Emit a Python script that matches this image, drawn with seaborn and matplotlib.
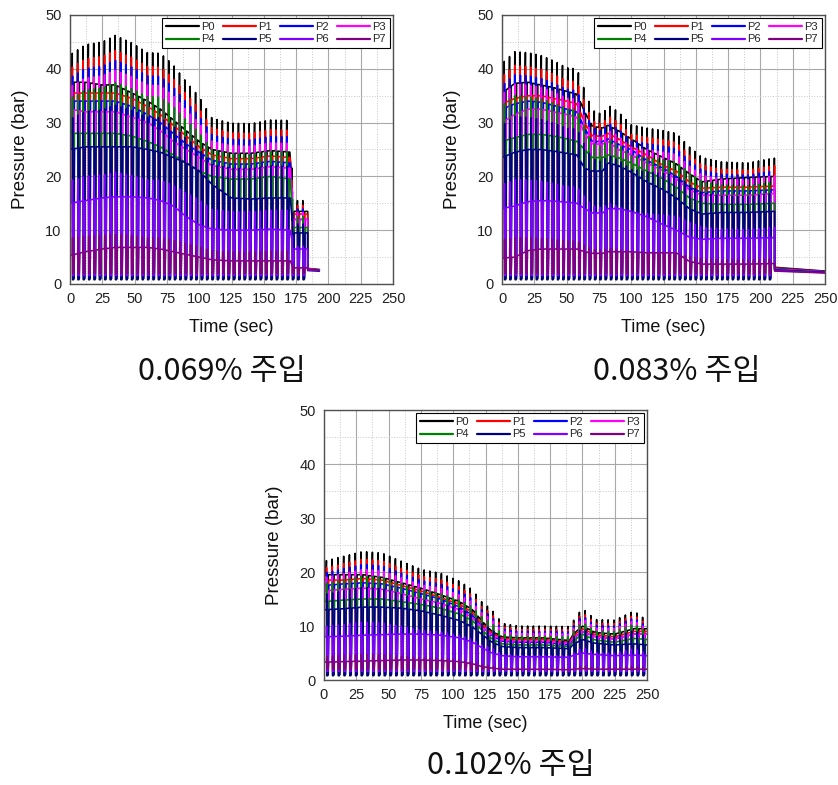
import numpy as np
import pandas as pd
import matplotlib
matplotlib.use("Agg")
import matplotlib.pyplot as plt
import seaborn as sns
from matplotlib.ticker import MultipleLocator
from matplotlib.lines import Line2D

# ---------------- data ----------------
series = ["P0", "P1", "P2", "P3", "P4", "P5", "P6", "P7"]
colors = ["#000000", "#ff0000", "#0000ff", "#ff00ff", "#008000", "#000080", "#8000ff", "#800080"]
peak_scale = [1.0, 0.94, 0.90, 0.86, 0.81, 0.72, 0.45, 0.20]   # spike top relative to P0 spike top
trough = [0.8, 1.5, 1.0, 1.7, 1.4, 1.0, 1.6, 2.0]               # drop level of each pulse
phase_shift = [0.00, 0.03, 0.06, 0.02, 0.05, 0.08, 0.04, 0.07]  # small timing offset of each sensor (fraction of a cycle)

# --- panel 1 : 0.069 %
p1_caption = "0.069% 주입"
p1_period = 4.15
p1_osc_end = 184
p1_t = [0, 12, 25, 35, 48, 60, 70, 80, 90, 100, 110, 125, 140, 155, 171, 172.5, 184]
p1_peak = [42.6, 44.5, 45.0, 46.2, 44.8, 43.0, 42.9, 40.7, 37.6, 34.8, 30.8, 29.9, 29.8, 30.5, 30.4, 15.5, 15.5]
p1_plateau = {
    "P0": [37.5, 37.5, 37.0, 37.0, 35.5, 34.0, 32.5, 30.5, 28.5, 26.5, 25.0, 24.3, 24.3, 24.8, 24.5, 13.5, 13.5],
    "P1": [35.5, 35.5, 35.5, 35.5, 34.5, 33.0, 31.5, 29.5, 27.5, 25.5, 24.0, 23.3, 23.3, 23.8, 23.5, 13.0, 13.0],
    "P2": [34.0, 34.0, 34.0, 34.0, 33.0, 31.5, 30.0, 28.0, 26.0, 24.5, 23.0, 22.3, 22.3, 22.8, 22.5, 12.0, 12.0],
    "P3": [32.5, 32.0, 32.0, 32.0, 31.0, 30.0, 28.5, 26.5, 25.0, 23.5, 22.0, 21.3, 21.3, 21.8, 21.5, 12.0, 12.0],
    "P4": [28.0, 28.0, 28.0, 28.0, 27.5, 26.5, 25.5, 24.0, 22.5, 21.0, 20.0, 19.5, 19.5, 20.0, 19.5, 10.5, 10.5],
    "P5": [25.0, 25.5, 25.5, 25.5, 25.5, 25.0, 24.5, 23.5, 22.5, 21.0, 18.5, 16.0, 15.8, 16.0, 16.0, 9.5, 9.5],
    "P6": [15.0, 15.5, 16.0, 16.2, 16.2, 16.0, 15.5, 14.5, 12.5, 11.0, 10.2, 10.0, 10.0, 10.2, 10.0, 6.5, 6.5],
    "P7": [5.3, 6.0, 6.5, 6.8, 6.8, 6.8, 6.5, 6.0, 5.5, 5.0, 4.5, 4.3, 4.3, 4.3, 4.3, 3.0, 3.0],
}
p1_tail_t = [184, 193]
p1_tail_start = [2.9, 2.8, 2.7, 2.8, 2.6, 2.5, 2.6, 2.7]
p1_tail_end = [2.7, 2.6, 2.5, 2.6, 2.5, 2.4, 2.5, 2.6]

# --- panel 2 : 0.083 %
p2_caption = "0.083% 주입"
p2_period = 4.1
p2_osc_end = 211
p2_t = [0, 10, 20, 30, 40, 50, 58, 64, 70, 78, 82, 90, 100, 112, 125, 135, 145, 155, 170, 190, 210]
p2_peak = [41.0, 43.2, 43.0, 42.5, 41.5, 40.2, 40.0, 36.0, 32.3, 31.5, 33.3, 32.0, 29.6, 29.0, 28.5, 28.0, 25.5, 23.5, 22.7, 22.5, 23.4]
p2_plateau = {
    "P0": [35.5, 37.3, 37.5, 37.0, 36.5, 35.8, 35.3, 32.0, 29.3, 29.0, 29.5, 28.5, 27.0, 25.0, 23.5, 22.3, 20.5, 19.0, 19.5, 19.8, 20.0],
    "P1": [33.5, 34.5, 35.0, 35.0, 34.5, 34.0, 33.5, 30.0, 27.5, 27.5, 28.0, 27.0, 25.5, 24.0, 22.0, 21.0, 19.0, 17.8, 18.0, 18.0, 18.2],
    "P2": [32.5, 33.5, 34.0, 33.8, 33.2, 32.5, 32.0, 29.0, 26.5, 26.5, 27.0, 26.0, 25.0, 23.0, 21.5, 20.0, 18.0, 17.0, 17.3, 17.3, 17.5],
    "P3": [30.0, 31.5, 32.5, 32.5, 32.0, 31.5, 31.0, 28.0, 26.0, 26.0, 26.5, 25.0, 24.0, 22.5, 21.0, 19.5, 17.5, 16.5, 16.5, 16.5, 16.8],
    "P4": [26.5, 27.2, 27.8, 27.8, 27.5, 27.0, 26.5, 25.0, 23.5, 23.5, 24.0, 23.5, 22.5, 21.0, 19.5, 18.0, 16.0, 15.0, 14.8, 14.8, 15.0],
    "P5": [23.5, 24.5, 25.0, 25.0, 24.7, 24.3, 24.0, 21.5, 21.0, 21.0, 22.5, 22.0, 20.8, 19.0, 17.5, 16.0, 14.0, 13.0, 13.3, 13.3, 13.5],
    "P6": [14.0, 14.5, 15.3, 15.5, 15.4, 15.2, 15.0, 14.0, 13.2, 13.2, 14.0, 14.0, 13.5, 12.5, 11.0, 10.0, 8.7, 8.3, 8.5, 8.5, 8.6],
    "P7": [4.8, 5.0, 6.2, 6.5, 6.5, 6.5, 6.5, 6.0, 5.7, 5.7, 6.0, 6.0, 6.0, 5.8, 5.8, 5.8, 4.2, 3.7, 3.7, 3.7, 3.8],
}
p2_tail_t = [211, 250]
p2_tail_start = [3.1, 3.0, 2.9, 2.8, 2.7, 2.6, 2.5, 2.4]
p2_tail_end = [2.4, 2.35, 2.3, 2.25, 2.2, 2.15, 2.1, 2.05]

# --- panel 3 : 0.102 %
p3_caption = "0.102% 주입"
p3_period = 4.45
p3_osc_end = 250
p3_t = [0, 15, 30, 45, 60, 75, 90, 105, 115, 122, 130, 138, 150, 170, 190, 193, 200, 210, 225, 240, 250]
p3_peak = [22.0, 22.9, 23.8, 23.5, 22.0, 20.5, 19.8, 18.3, 16.7, 14.5, 13.0, 10.5, 10.0, 10.0, 9.9, 11.0, 13.3, 11.2, 11.1, 12.8, 11.0]
p3_plateau = {
    "P0": [19.5, 19.5, 19.5, 19.0, 18.0, 17.0, 15.8, 14.5, 13.0, 11.0, 9.0, 8.0, 7.8, 7.8, 7.3, 8.5, 10.0, 8.8, 8.5, 9.5, 9.5],
    "P1": [18.5, 18.5, 18.8, 18.5, 17.5, 16.5, 15.3, 14.0, 12.5, 10.5, 8.7, 7.7, 7.5, 7.5, 7.0, 8.2, 9.5, 8.4, 8.0, 9.0, 9.0],
    "P2": [17.5, 17.8, 18.0, 17.8, 17.0, 16.0, 15.0, 13.5, 12.0, 10.0, 8.2, 7.2, 7.0, 7.0, 6.5, 7.7, 9.0, 8.0, 7.6, 8.5, 8.5],
    "P3": [16.5, 16.8, 17.0, 16.8, 16.0, 15.0, 14.2, 13.0, 11.5, 9.8, 8.4, 7.4, 7.2, 7.2, 6.8, 7.8, 9.0, 8.0, 7.6, 8.5, 8.5],
    "P4": [14.5, 14.8, 15.0, 15.0, 14.5, 14.0, 13.3, 12.2, 11.0, 9.3, 7.6, 6.7, 6.5, 6.5, 6.2, 7.2, 8.5, 7.4, 7.0, 7.7, 7.5],
    "P5": [13.0, 13.2, 13.5, 13.5, 13.3, 12.8, 12.0, 11.0, 9.8, 8.5, 7.0, 6.2, 6.0, 6.0, 5.8, 6.6, 7.5, 6.8, 6.5, 6.7, 6.5],
    "P6": [8.0, 8.1, 8.3, 8.4, 8.5, 8.5, 8.3, 7.8, 7.0, 6.0, 5.0, 4.5, 4.3, 4.3, 4.2, 4.6, 5.0, 4.7, 4.5, 4.6, 4.5],
    "P7": [3.3, 3.4, 3.5, 3.6, 3.7, 3.7, 3.6, 3.4, 3.0, 2.5, 2.2, 2.0, 2.0, 2.0, 1.9, 2.0, 2.1, 2.0, 2.0, 2.0, 2.0],
}
p3_tail_t = []
p3_tail_start = []
p3_tail_end = []

# ---------------- build waveforms ----------------
PHASE = [0.0, 0.36, 0.42, 0.48, 0.66, 0.76]
KIND = ["plat", "plat", "peak", "low", "low", "plat"]


def build(knot_t, peak, plateau, period, osc_end, tail_t, tail_start, tail_end):
    rows = []
    starts = np.arange(0.0, osc_end - 0.3 * period, period)
    for i, s in enumerate(series):
        order = 0
        rows.append((0.0, plateau[s][0], s, order))
        order += 1
        for c in starts:
            for ph, kind in zip(PHASE, KIND):
                t = c + (ph + phase_shift[i]) * period
                if t > osc_end or t <= 0:
                    continue
                base = np.interp(t, knot_t, plateau[s])
                if kind == "plat":
                    v = base
                elif kind == "peak":
                    v = max(np.interp(t, knot_t, peak) * peak_scale[i], base)
                else:
                    v = min(trough[i], base)
                rows.append((t, v, s, order))
                order += 1
        rows.append((osc_end, np.interp(osc_end, knot_t, plateau[s]), s, order))
        order += 1
        if tail_t:
            rows.append((tail_t[0], tail_start[i], s, order))
            rows.append((tail_t[1], tail_end[i], s, order + 1))
    return pd.DataFrame(rows, columns=["t", "p", "series", "order"])


panels = [
    (build(p1_t, p1_peak, p1_plateau, p1_period, p1_osc_end, p1_tail_t, p1_tail_start, p1_tail_end), p1_caption),
    (build(p2_t, p2_peak, p2_plateau, p2_period, p2_osc_end, p2_tail_t, p2_tail_start, p2_tail_end), p2_caption),
    (build(p3_t, p3_peak, p3_plateau, p3_period, p3_osc_end, p3_tail_t, p3_tail_start, p3_tail_end), p3_caption),
]

# ---------------- figure ----------------
sns.set_style("white")
plt.rcParams["font.family"] = ["Liberation Sans", "DejaVu Sans"]

fig = plt.figure(figsize=(8.38, 7.85), dpi=100)
W, H = 838, 785
boxes = [(70, 15, 393, 284), (502, 15, 825, 284), (324, 410, 647, 680)]
cap_pos = [(222, 372), (677, 372), (511, 765)]

# legend fills row-wise: P0 P1 P2 P3 / P4 P5 P6 P7
leg_order = [0, 4, 1, 5, 2, 6, 3, 7]

for (df, cap), (l, t, r, b), (cx, cy) in zip(panels, boxes, cap_pos):
    ax = fig.add_axes([l / W, 1 - b / H, (r - l) / W, (b - t) / H])
    sns.lineplot(data=df, x="t", y="p", hue="series", hue_order=series, palette=colors,
                 estimator=None, sort=False, linewidth=1.15, legend=False, ax=ax)
    ax.set_xlim(0, 250)
    ax.set_ylim(0, 50)
    ax.xaxis.set_major_locator(MultipleLocator(25))
    ax.xaxis.set_minor_locator(MultipleLocator(12.5))
    ax.yaxis.set_major_locator(MultipleLocator(10))
    ax.yaxis.set_minor_locator(MultipleLocator(5))
    ax.grid(which="major", color="#a8a8a8", linewidth=0.8, linestyle="-")
    ax.grid(which="minor", color="#c8c8c8", linewidth=0.7, linestyle=":")
    ax.set_axisbelow(True)
    for sp in ax.spines.values():
        sp.set_color("#505050")
        sp.set_linewidth(1.0)
    ax.tick_params(which="major", direction="out", length=3, width=0.8, color="#505050",
                   labelsize=10.5, labelcolor="#222222", pad=3)
    ax.tick_params(which="minor", direction="out", length=2, width=0.6, color="#505050")
    ax.set_xlabel("Time (sec)", fontsize=13, color="#111111", labelpad=9)
    ax.set_ylabel("Pressure (bar)", fontsize=13.5, color="#111111", labelpad=12)

    handles = [Line2D([], [], color=colors[k], lw=1.6) for k in leg_order]
    labels = [series[k] for k in leg_order]
    leg = ax.legend(handles, labels, ncol=4, loc="upper right", fontsize=8, frameon=True,
                    fancybox=False, edgecolor="black", framealpha=1, handlelength=3.0,
                    handletextpad=0.2, columnspacing=0.7, borderpad=0.35, labelspacing=0.2,
                    borderaxespad=0.3)
    leg.get_frame().set_linewidth(0.8)

    fig.text(cx / W, 1 - cy / H, cap, ha="center", va="center", fontsize=22,
             family=["Noto Sans CJK KR", "DejaVu Sans"], color="#111111")

fig.savefig("out.png", dpi=100)
